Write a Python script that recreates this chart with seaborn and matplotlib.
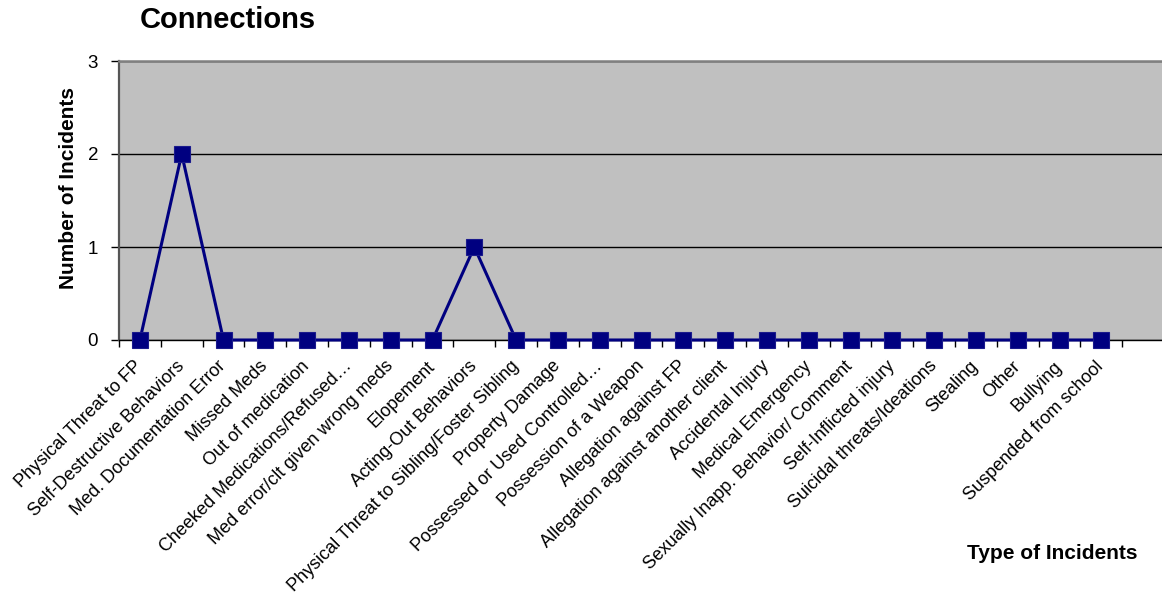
import numpy as np
import matplotlib
matplotlib.use('Agg')
import matplotlib.pyplot as plt
from matplotlib.ticker import FixedLocator
import pandas as pd
import seaborn as sns

# incident categories and counts
categories = [
    'Physical Threat to FP',
    'Self-Destructive Behaviors',
    'Med. Documentation Error',
    'Missed Meds',
    'Out of medication',
    'Cheeked Medications/Refused…',
    'Med error/clt given wrong meds',
    'Elopement',
    'Acting-Out Behaviors',
    'Physical Threat to Sibling/Foster Sibling',
    'Property Damage',
    'Possessed or Used Controlled…',
    'Possession of a Weapon',
    'Allegation against FP',
    'Allegation against another client',
    'Accidental Injury',
    'Medical Emergency',
    'Sexually Inapp. Behavior/ Comment',
    'Self-Inflicted injury',
    'Suicidal threats/Ideations',
    'Stealing',
    'Other',
    'Bullying',
    'Suspended from school',
]
counts = [0, 2, 0, 0, 0, 0, 0, 0, 1, 0, 0, 0, 0, 0, 0, 0, 0, 0, 0, 0, 0, 0, 0, 0]
y_ticks = [0, 1, 2, 3]

sns.set_style('white')
plt.rcParams['font.family'] = ['Liberation Sans', 'DejaVu Sans']
plt.rcParams['text.color'] = 'black'
plt.rcParams['xtick.color'] = 'black'
plt.rcParams['ytick.color'] = 'black'
plt.rcParams['axes.labelcolor'] = 'black'

df = pd.DataFrame({'pos': np.arange(len(categories)), 'count': counts})

fig = plt.figure(figsize=(11.62, 6.01), dpi=100)
W, H = 1162, 601
# plot area in pixels: left 119, top 61, bottom 340, 25 slots of 41.8 px
ax = fig.add_axes([119 / W, (H - 340) / H, 25 * 41.8 / W, 279 / H])
ax.set_facecolor('#C0C0C0')

sns.lineplot(data=df, x='pos', y='count', ax=ax, color='#000080', linewidth=2.2,
             marker='s', markersize=11, markeredgecolor='#1a1a8c',
             markeredgewidth=0.8, clip_on=False, zorder=5)

ax.set_xlim(-0.5, 24.5)
ax.set_ylim(0, 3)
ax.set_yticks(y_ticks)
ax.set_yticklabels([str(v) for v in y_ticks], fontsize=13.5)
ax.set_xticks(np.arange(len(categories)))
ax.set_xticklabels(categories, rotation=45, ha='right', va='center',
                   rotation_mode='anchor', fontsize=13)
ax.xaxis.set_minor_locator(FixedLocator(np.arange(-0.5, 25, 1)))
ax.tick_params(axis='x', which='major', length=0, pad=17)
ax.tick_params(axis='x', which='minor', length=5, width=1, color='black', direction='out', bottom=True)
ax.tick_params(axis='y', which='major', length=6, width=1, color='black', direction='out', left=True, pad=9)

ax.grid(axis='y', color='black', linewidth=1)
ax.set_axisbelow(True)
ax.set_xlabel('')
ax.set_ylabel('')

for side in ['top', 'left', 'bottom', 'right']:
    ax.spines[side].set_visible(True)
ax.spines['top'].set_color('#808080')
ax.spines['top'].set_linewidth(1.8)
ax.spines['left'].set_color('#555555')
ax.spines['left'].set_linewidth(1.6)
ax.spines['bottom'].set_color('black')
ax.spines['bottom'].set_linewidth(1)
ax.spines['right'].set_color('#808080')

fig.text(140 / W, 1 - 28 / H, 'Connections', ha='left', va='baseline',
         fontsize=21, fontweight='bold')
fig.text(69 / W, 1 - 188 / H, 'Number of Incidents', rotation=90, ha='center',
         va='center', fontsize=15, fontweight='bold')
fig.text(1052 / W, 1 - 559 / H, 'Type of Incidents', ha='center', va='baseline',
         fontsize=15, fontweight='bold')

fig.savefig('out.png', dpi=100, facecolor='white')
